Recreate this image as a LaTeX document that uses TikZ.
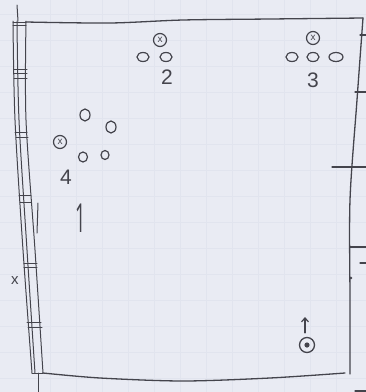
\documentclass[tikz,border=0pt]{standalone}
\usepackage{fontspec}
\setmainfont{Liberation Sans}
\newfontfamily\onefont{Open Sans}
\usetikzlibrary{arrows.meta,shapes.geometric}
\definecolor{paper}{RGB}{233,235,243}
\definecolor{gridc}{RGB}{225,228,238}
\definecolor{ink}{RGB}{68,68,76}
\tikzset{
  wall/.style={draw=ink, line width=1.3pt},
  thinwall/.style={draw=ink, line width=1pt},
  oval/.style={ellipse, draw=ink, line width=1.2pt, inner sep=0pt, minimum width=12pt, minimum height=9pt},
  ring/.style={circle, draw=ink, line width=1.2pt, inner sep=0pt, minimum size=13pt, text=ink, font=\fontsize{10}{10}\selectfont},
  lbl/.style={text=ink, inner sep=0pt, font=\fontsize{21}{21}\selectfont},
}
\begin{document}
\begin{tikzpicture}[x=1pt,y=-1pt,line cap=round,line join=round]
\fill[paper] (0,0) rectangle (366,392);
\useasboundingbox (0,0) rectangle (366,392);
% faint paper grid
\foreach \gx in {50,76,102,128,154,180,206,232,258,284,310,336}
  \draw[gridc, line width=0.6pt] (\gx,0) -- (\gx,392);
\foreach \gy in {14,40,66,92,118,144,170,196,222,248,274,300,326,352,378}
  \draw[gridc, line width=0.6pt] (0,\gy) -- (366,\gy);

% top, right and bottom boundary
\draw[wall] plot[smooth] coordinates {(26,22) (110,23) (183,20) (270,19) (363,18)};
\draw[wall] plot[smooth] coordinates {(363,18) (357,100) (350,200) (350,300) (350,374)};
\draw[wall] plot[smooth] coordinates {(43,373) (100,378) (183,381) (270,378) (345,373)};

% right side ticks
\draw[wall] (360,35) -- (366,35);
\draw[wall] (355,92) -- (366,92);
\draw[wall] (332,167) -- (366,167);
\draw[wall] (350,247) -- (366,247);
\draw[wall] (360,263) -- (366,263);
\draw[wall] (355,391) -- (366,391);
\fill[ink] (351,278) circle (1.4pt);

% left wall strip
\draw[thinwall] plot[smooth] coordinates {(13,21) (15,120) (23,250) (32,373)};
\draw[thinwall] plot[smooth] coordinates {(17,21) (19,120) (27,250) (35,373)};
\draw[thinwall] plot[smooth] coordinates {(26,21) (26,120) (35,250) (43,373)};
\draw[thinwall] (18,21) -- (17,5);
\draw[thinwall] (13,22) -- (26,22);
\draw[thinwall] (13,25) -- (26,25);
\draw[thinwall] (32,373) -- (43,373);
\draw[thinwall] (38,373) -- (38,392);
\foreach \ya/\xa/\xb in {69/14/27, 73/14/27, 78/14/27, 132/15/27, 137/16/28, 195/19/31, 202/20/31, 263/24/37, 267/24/37, 322/27/41, 327/28/42}
  \draw[thinwall] (\xa,\ya) -- (\xb,\ya);
\draw[thinwall] (38,203) -- (37,233);
\node[lbl, font=\fontsize{15}{15}\selectfont] (xmark) at (15,281) {x};

% group 2
\node[ring] (p2a) at (160,40) {x};
\node[oval] (p2b) at (143,57) {};
\node[oval] (p2c) at (166,57) {};
\node[lbl] (l2) at (167,77) {2};

% group 3
\node[ring] (p3a) at (313,38) {x};
\node[oval] (p3b) at (292,57) {};
\node[oval] (p3c) at (313,57) {};
\node[oval, minimum width=14pt] (p3d) at (336,57) {};
\node[lbl] (l3) at (313,80) {3};

% group 4
\node[oval, minimum width=10pt, minimum height=12pt] (p4a) at (85,115) {};
\node[oval, minimum width=10pt, minimum height=12pt] (p4b) at (111,127) {};
\node[ring] (p4c) at (60,142) {x};
\node[oval, minimum width=9pt, minimum height=10pt] (p4d) at (83,157) {};
\node[oval, minimum width=8pt, minimum height=9pt] (p4e) at (105,155) {};
\node[lbl] (l4) at (66,177) {4};

% label 1
\node[lbl, font=\onefont\fontsize{40}{40}\selectfont, xscale=0.45] (l1) at (81,218) {1};

% ball / player with arrow
\node[circle, draw=ink, line width=1.3pt, minimum size=15pt, inner sep=0pt] (ball) at (307,345) {};
\fill[ink] (ball.center) circle (2.6pt);
\coordinate (arrtip) at (305,317);
\draw[ink, line width=1.2pt, -{Straight Barb[length=4pt,width=7pt]}] ([xshift=-2pt,yshift=4pt]ball.north) -- (arrtip);
\end{tikzpicture}
\end{document}
